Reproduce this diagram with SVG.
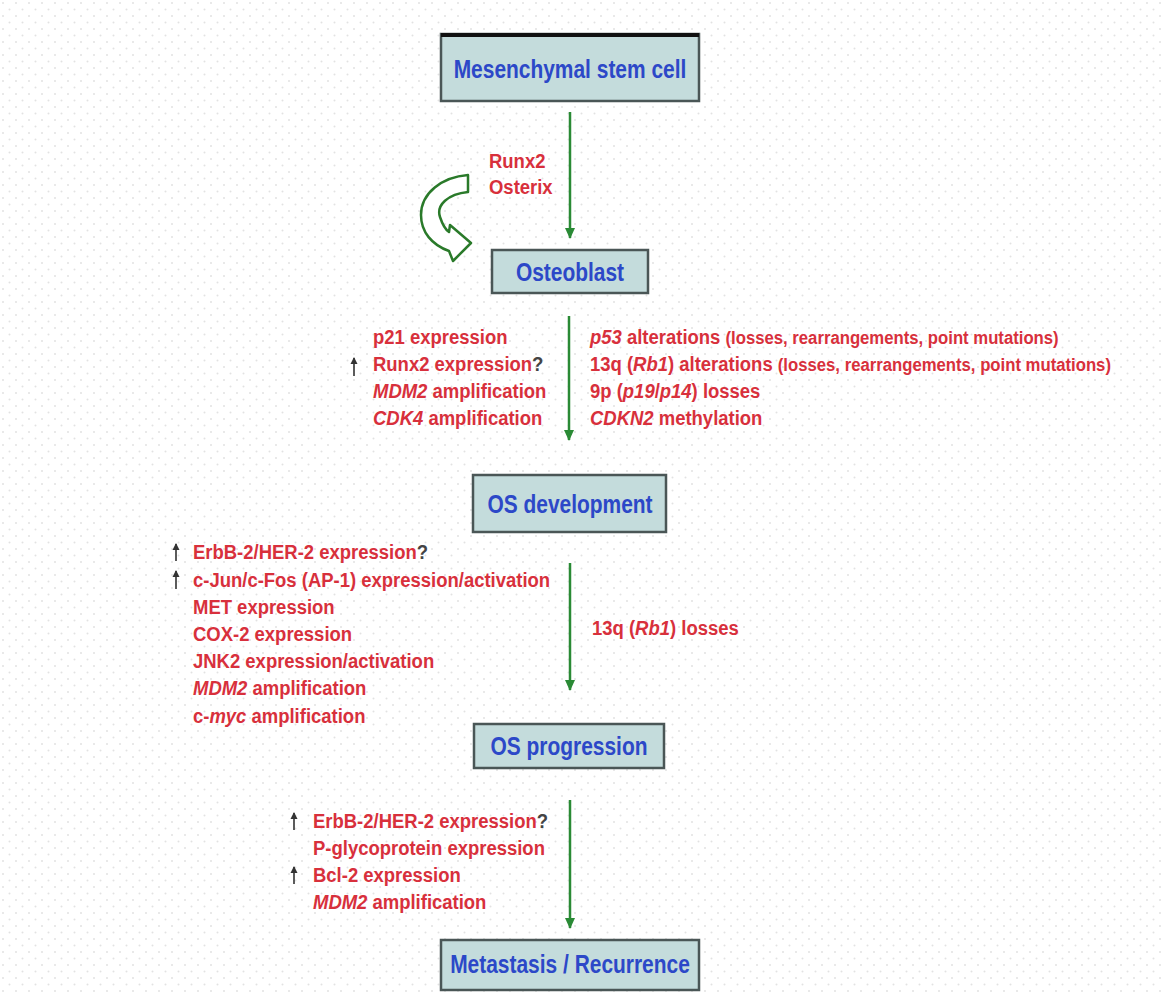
<svg xmlns="http://www.w3.org/2000/svg" width="1165" height="992" viewBox="0 0 1165 992">
  <defs>
    <pattern id="dots" width="13" height="13" patternUnits="userSpaceOnUse">
      <circle cx="3" cy="3" r="1" fill="#e2e2e2"/>
      <circle cx="9.5" cy="9.5" r="1" fill="#e2e2e2"/>
    </pattern>
    <marker id="head" markerWidth="12" markerHeight="12" refX="10" refY="6" orient="auto" markerUnits="userSpaceOnUse">
      <path d="M0,1 L11,6 L0,11 Z" fill="#2a8a35"/>
    </marker>
    <marker id="up" markerWidth="8" markerHeight="8" refX="6" refY="4" orient="auto" markerUnits="userSpaceOnUse">
      <path d="M0,0.5 L7,4 L0,7.5 Z" fill="#333"/>
    </marker>
    <style>
      .box { fill: #c4dcdc; stroke: #4a5656; stroke-width: 2.5; }
      .title { font-family: "Liberation Sans", Arial, sans-serif; font-weight: bold; font-size: 26.5px; fill: #2c48c8; text-anchor: middle; }
      .red { font-family: "Liberation Sans", Arial, sans-serif; font-weight: bold; font-size: 21px; fill: #d8303c; }
      .small { font-size: 19px; }
      .it { font-style: italic; }
      .q { fill: #444; }
      .flow { stroke: #2a8a35; stroke-width: 2.5; fill: none; marker-end: url(#head); }
      .tick { stroke: #333; stroke-width: 1.6; fill: none; marker-end: url(#up); }
    </style>
  </defs>

  <rect width="1165" height="992" fill="#ffffff"/>
  <rect width="1165" height="992" fill="url(#dots)"/>

  <!-- connectors -->
  <g id="connectors">
    <line class="flow" x1="570" y1="112" x2="570" y2="238"/>
    <line class="flow" x1="569" y1="316" x2="569" y2="440"/>
    <line class="flow" x1="570" y1="563" x2="570" y2="690"/>
    <line class="flow" x1="570" y1="800" x2="570" y2="928"/>
    <!-- curved block arrow beside the first step -->
    <path d="M468,175 L468,192 C448,194 436,205 440,217 C443,226 446,230 449,232 L450,225 L471,243 L453,261 L449,251 C432,245 421,232 421,215 C421,193 442,177 468,175 Z" fill="#ffffff" stroke="#2a7a2a" stroke-width="2.5" stroke-linejoin="round"/>
  </g>

  <!-- nodes -->
  <g id="node-msc">
    <rect class="box" x="441" y="34" width="258" height="67"/>
    <line x1="441" y1="35" x2="699" y2="35" stroke="#111" stroke-width="4"/>
    <text class="title" transform="translate(570,78) scale(0.79,1)">Mesenchymal stem cell</text>
  </g>
  <g id="node-osteoblast">
    <rect class="box" x="492" y="250" width="156" height="43"/>
    <text class="title" transform="translate(570,281) scale(0.79,1)">Osteoblast</text>
  </g>
  <g id="node-os-development">
    <rect class="box" x="473" y="475" width="193" height="57"/>
    <text class="title" transform="translate(570,513) scale(0.79,1)">OS development</text>
  </g>
  <g id="node-os-progression">
    <rect class="box" x="474" y="724" width="190" height="44"/>
    <text class="title" transform="translate(569,755) scale(0.79,1)">OS progression</text>
  </g>
  <g id="node-metastasis">
    <rect class="box" x="441" y="940" width="258" height="50"/>
    <text class="title" transform="translate(570,973) scale(0.79,1)">Metastasis / Recurrence</text>
  </g>

  <!-- labels: differentiation factors -->
  <g id="label-differentiation" transform="translate(489,0) scale(0.88,1)">
    <text class="red" x="0" y="168">Runx2</text>
    <text class="red" x="0" y="194">Osterix</text>
  </g>

  <!-- labels: osteoblast to OS development, left -->
  <g id="label-dev-left" transform="translate(373,0) scale(0.88,1)">
    <text class="red" x="0" y="344">p21 expression</text>
    <text class="red" x="0" y="371">Runx2 expression<tspan class="q">?</tspan></text>
    <text class="red" x="0" y="398"><tspan class="it">MDM2</tspan> amplification</text>
    <text class="red" x="0" y="425"><tspan class="it">CDK4</tspan> amplification</text>
  </g>
  <line class="tick" x1="354" y1="376" x2="354" y2="358"/>

  <!-- labels: osteoblast to OS development, right -->
  <g id="label-dev-right" transform="translate(590,0) scale(0.88,1)">
    <text class="red" x="0" y="344"><tspan class="it">p53</tspan> alterations <tspan class="small">(losses, rearrangements, point mutations)</tspan></text>
    <text class="red" x="0" y="371">13q (<tspan class="it">Rb1</tspan>) alterations <tspan class="small">(losses, rearrangements, point mutations)</tspan></text>
    <text class="red" x="0" y="398">9p (<tspan class="it">p19</tspan>/<tspan class="it">p14</tspan>) losses</text>
    <text class="red" x="0" y="425"><tspan class="it">CDKN2</tspan> methylation</text>
  </g>

  <!-- labels: OS development to progression -->
  <g id="label-prog-left" transform="translate(193,0) scale(0.88,1)">
    <text class="red" x="0" y="559">ErbB-2/HER-2 expression<tspan class="q">?</tspan></text>
    <text class="red" x="0" y="587">c-Jun/c-Fos (AP-1) expression/activation</text>
    <text class="red" x="0" y="614">MET expression</text>
    <text class="red" x="0" y="641">COX-2 expression</text>
    <text class="red" x="0" y="668">JNK2 expression/activation</text>
    <text class="red" x="0" y="695"><tspan class="it">MDM2</tspan> amplification</text>
    <text class="red" x="0" y="723">c-<tspan class="it">myc</tspan> amplification</text>
  </g>
  <line class="tick" x1="176" y1="561" x2="176" y2="544"/>
  <line class="tick" x1="176" y1="589" x2="176" y2="571"/>
  <g id="label-prog-right" transform="translate(592,0) scale(0.88,1)">
    <text class="red" x="0" y="635">13q (<tspan class="it">Rb1</tspan>) losses</text>
  </g>

  <!-- labels: progression to metastasis -->
  <g id="label-meta" transform="translate(313,0) scale(0.88,1)">
    <text class="red" x="0" y="828">ErbB-2/HER-2 expression<tspan class="q">?</tspan></text>
    <text class="red" x="0" y="855">P-glycoprotein expression</text>
    <text class="red" x="0" y="882">Bcl-2 expression</text>
    <text class="red" x="0" y="909"><tspan class="it">MDM2</tspan> amplification</text>
  </g>
  <line class="tick" x1="294" y1="830" x2="294" y2="813"/>
  <line class="tick" x1="294" y1="884" x2="294" y2="867"/>
</svg>
